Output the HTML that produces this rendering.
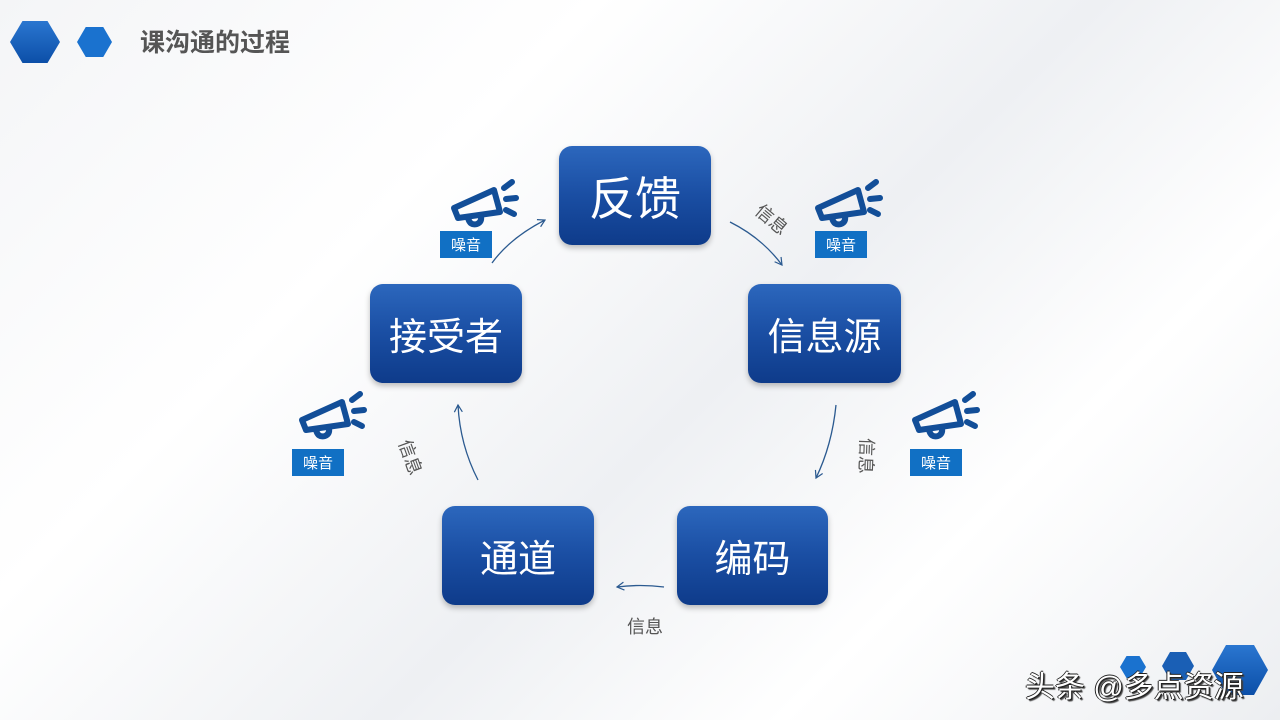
<!DOCTYPE html>
<html><head><meta charset="utf-8"><style>
body{margin:0;width:1280px;height:720px;overflow:hidden;position:relative;
background:linear-gradient(135deg,#f4f5f7 0%,#ffffff 30%,#eef0f3 55%,#ffffff 75%,#eceef1 100%);
font-family:"Liberation Sans","Noto Sans CJK SC",sans-serif;}
.box{position:absolute;width:152px;height:99px;border-radius:13px;
background:linear-gradient(180deg,#2c67bd 0%,#1a4ea3 50%,#0e3b8a 100%);
color:#fff;font-size:38px;display:flex;align-items:center;justify-content:center;
box-shadow:0 3px 6px rgba(0,0,0,.25);}
.tag{position:absolute;width:52px;height:27px;background:#1170c4;color:#fff;font-size:15px;
display:flex;align-items:center;justify-content:center;}
.lbl{position:absolute;color:#555;font-size:18px;}
.title{position:absolute;left:140px;top:23px;font-size:25px;font-weight:bold;color:#555;}
.hex{position:absolute;clip-path:polygon(25% 0,75% 0,100% 50%,75% 100%,25% 100%,0 50%);}
</style></head><body>
<div class="hex" style="left:10px;top:21px;width:50px;height:42px;background:linear-gradient(#2a76d0,#0c4fa8)"></div>
<div class="hex" style="left:77px;top:27px;width:35px;height:30px;background:#1a72cf"></div>
<div class="title">课沟通的过程</div>

<div class="box" style="left:559px;top:146px;font-size:46px">反馈</div>
<div class="box" style="left:748px;top:284px;width:153px">信息源</div>
<div class="box" style="left:677px;top:506px;width:151px">编码</div>
<div class="box" style="left:442px;top:506px">通道</div>
<div class="box" style="left:370px;top:284px">接受者</div>

<svg width="1280" height="720" style="position:absolute;left:0;top:0">
<defs>
<g id="mega" fill="none" stroke="#124e98" stroke-width="6" stroke-linecap="round" stroke-linejoin="round">
<path d="M4 26 L44 8 L50 30 L8 36 Z" fill="none"/>
<path d="M18 36 q2 8 9 6 q5 -2 4 -8"/>
<path d="M54 6 L62 0 M56 17 L66 16 M56 28 L64 32"/>
</g>
<marker id="ar" markerWidth="10" markerHeight="10" refX="8" refY="5" orient="auto" markerUnits="userSpaceOnUse">
<path d="M1 1 L8 5 L1 9" fill="none" stroke="#2b5a90" stroke-width="1.2"/></marker>
</defs>
<use href="#mega" x="450" y="182"/>
<use href="#mega" x="814" y="182"/>
<use href="#mega" x="298" y="394"/>
<use href="#mega" x="911" y="394"/>
<g fill="none" stroke="#2b5a90" stroke-width="1.3" marker-end="url(#ar)">
<path d="M492 263 Q510 238 545 220"/>
<path d="M730 222 Q762 238 782 265"/>
<path d="M836 405 Q832 445 816 478"/>
<path d="M664 587 Q640 584 617 587"/>
<path d="M478 480 Q460 445 458 405"/>
</g>
</svg>

<div class="tag" style="left:440px;top:231px">噪音</div>
<div class="tag" style="left:815px;top:231px">噪音</div>
<div class="tag" style="left:292px;top:449px">噪音</div>
<div class="tag" style="left:910px;top:449px">噪音</div>

<div class="lbl" style="left:754px;top:206px;transform:rotate(40deg)">信息</div>
<div class="lbl" style="left:849px;top:443px;transform:rotate(92deg)">信息</div>
<div class="lbl" style="left:627px;top:613px">信息</div>
<div class="lbl" style="left:393px;top:444px;transform:rotate(70deg)">信息</div>

<div class="hex" style="left:1120px;top:656px;width:26px;height:22px;background:#1a72cf"></div>
<div class="hex" style="left:1162px;top:652px;width:32px;height:28px;background:#1a5fb5"></div>
<div class="hex" style="left:1212px;top:645px;width:56px;height:50px;background:linear-gradient(#2a76d0,#0c4fa8)"></div>
<div style="position:absolute;left:1025px;top:662px;font-size:30px;color:#fff;text-shadow:1px 1px 0 #222,-1px 0 0 #222,0 -1px 0 #222,2px 2px 1px #444">头条 @多点资源</div>
</body></html>
